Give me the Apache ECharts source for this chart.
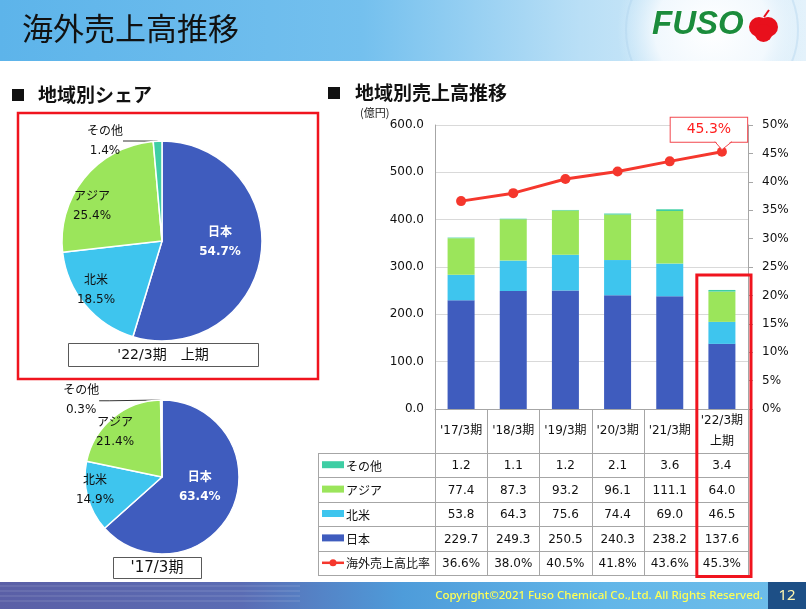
<!DOCTYPE html>
<html><head><meta charset="utf-8">
<script src="https://cdn.jsdelivr.net/npm/echarts@6/dist/echarts.min.js"></script>
<style>html,body{margin:0;padding:0;background:#fff}#c{width:806px;height:609px}</style>
</head><body><div id="c"></div>
<script>
// ---- data ----
const categories = ["'17/3期", "'18/3期", "'19/3期", "'20/3期", "'21/3期", "'22/3期\n上期"];
const japan = [229.7, 249.3, 250.5, 240.3, 238.2, 137.6];
const northAmerica = [53.8, 64.3, 75.6, 74.4, 69.0, 46.5];
const asia = [77.4, 87.3, 93.2, 96.1, 111.1, 64.0];
const others = [1.2, 1.1, 1.2, 2.1, 3.6, 3.4];
const overseasRatio = [36.6, 38.0, 40.5, 41.8, 43.6, 45.3];
const shareNames = ['日本', '北米', 'アジア', 'その他'];
const share22 = [54.7, 18.5, 25.4, 1.4];
const share17 = [63.4, 14.9, 21.4, 0.3];
const leftAxis = {min: 0, max: 600, interval: 100};
const rightAxis = {min: 0, max: 50, interval: 5};

// ---- style ----
const C = {jp: '#3F5CBE', na: '#3EC5EE', asia: '#9BE55B', oth: '#3ECEA4', line: '#F5372D'};
const sliceColors = [C.jp, C.na, C.asia, C.oth];
const FJ = '"Noto Sans CJK JP", sans-serif';
const FN = '"DejaVu Sans", "Noto Sans CJK JP", sans-serif';
const G = {left: 435, right: 748, top: 125, bottom: 409};
const colW = (G.right - G.left) / categories.length;

const chart = echarts.init(document.getElementById('c'), null, {renderer: 'canvas'});

// label placement relative to pie centre, in fractions of the radius
function pieLayout(cx, cy, R, offs) {
  return function (p) {
    const o = offs[p.dataIndex];
    return {x: cx + o[0] * R, y: cy + o[1] * R, align: 'center', verticalAlign: 'middle'};
  };
}
function pieData(vals) {
  return vals.map((v, i) => ({
    name: shareNames[i], value: v,
    itemStyle: {color: sliceColors[i]},
    label: i === 0 ? {color: '#fff', fontWeight: 'bold', position: 'inside'} :
           (i === 3 ? {position: 'outside'} : {position: 'inside'}),
    labelLine: {show: i === 3, lineStyle: {color: '#333', width: 1}, length: 6, length2: 10}
  }));
}
const pieLabel = {show: true, formatter: '{b}\n{c}%', fontSize: 12, fontFamily: FN, color: '#111', lineHeight: 19};

const option = {
  animation: false,
  grid: {left: G.left, right: 806 - G.right, top: G.top, bottom: 609 - G.bottom},
  xAxis: {
    type: 'category', data: categories,
    axisLine: {show: true, lineStyle: {color: '#A6A6A6'}},
    axisTick: {show: false},
    axisLabel: {interval: 0, margin: 22, verticalAlign: 'middle', lineHeight: 21, fontSize: 12, fontFamily: FN, color: '#111'}
  },
  yAxis: [
    {type: 'value', min: leftAxis.min, max: leftAxis.max, interval: leftAxis.interval,
     axisLine: {show: true, lineStyle: {color: '#A6A6A6'}}, axisTick: {show: false},
     splitLine: {lineStyle: {color: '#D9D9D9'}},
     axisLabel: {formatter: v => v.toFixed(1), fontSize: 12, fontFamily: FN, color: '#111', margin: 11}},
    {type: 'value', min: rightAxis.min, max: rightAxis.max, interval: rightAxis.interval, position: 'right',
     axisLine: {show: true, lineStyle: {color: '#A6A6A6'}},
     axisTick: {show: true, length: 5, lineStyle: {color: '#A6A6A6'}},
     splitLine: {show: false},
     axisLabel: {formatter: '{value}%', fontSize: 12, fontFamily: FN, color: '#111', margin: 14}}
  ],
  series: [
    {name: '日本', type: 'bar', stack: 's', data: japan, barWidth: 27, itemStyle: {color: C.jp}},
    {name: '北米', type: 'bar', stack: 's', data: northAmerica, itemStyle: {color: C.na}},
    {name: 'アジア', type: 'bar', stack: 's', data: asia, itemStyle: {color: C.asia}},
    {name: 'その他', type: 'bar', stack: 's', data: others, itemStyle: {color: C.oth}},
    {name: '海外売上高比率', type: 'line', yAxisIndex: 1, z: 5,
     data: overseasRatio.map((v, i) => i === overseasRatio.length - 1 ? {
       value: v,
       label: {show: true, position: 'top', distance: 5, offset: [-13, 0], formatter: '{c}%',
               color: '#FF1E1E', fontSize: 14, fontFamily: FN, backgroundColor: '#fff',
               borderColor: '#F2474E', borderWidth: 1, padding: [5, 16, 5, 16]}
     } : v),
     symbol: 'circle', symbolSize: 10, lineStyle: {color: C.line, width: 3}, itemStyle: {color: C.line}},
    {type: 'pie', center: [162, 241], radius: [0, 100], startAngle: 90, clockwise: true,
     itemStyle: {borderColor: '#fff', borderWidth: 1.5}, label: pieLabel,
     labelLayout: pieLayout(162, 241, 100, [[0.58, 0.01], [-0.66, 0.49], [-0.70, -0.35], [-0.57, -1.0]]),
     data: pieData(share22)},
    {type: 'pie', center: [162, 477], radius: [0, 77], startAngle: 90, clockwise: true,
     itemStyle: {borderColor: '#fff', borderWidth: 1.5}, label: pieLabel,
     labelLayout: pieLayout(162, 477, 77, [[0.49, 0.14], [-0.87, 0.18], [-0.61, -0.58], [-1.05, -0.99]]),
     data: pieData(share17)}
  ]
};
chart.setOption(option);

// ---- decorations & table ----
const els = [];
// header
els.push({type: 'rect', shape: {x: 0, y: 0, width: 806, height: 61}, z: -10,
  style: {fill: new echarts.graphic.LinearGradient(0, 0, 1, 0, [
    {offset: 0, color: '#5DB4EA'}, {offset: 0.45, color: '#74C0EE'},
    {offset: 0.72, color: '#B9DFF6'}, {offset: 1, color: '#E4F2FB'}])}});
els.push({type: 'circle', shape: {cx: 712, cy: 30, r: 95}, z: -9,
  style: {fill: new echarts.graphic.RadialGradient(0.5, 0.5, 0.5, [
    {offset: 0, color: 'rgba(255,255,255,1)'}, {offset: 0.6, color: 'rgba(245,250,254,0.9)'},
    {offset: 1, color: 'rgba(220,238,250,0)'}])}});
els.push({type: 'circle', shape: {cx: 712, cy: 30, r: 86}, z: -8,
  style: {fill: 'none', stroke: 'rgba(170,205,235,0.35)', lineWidth: 2}});
els.push({type: 'rect', shape: {x: 0, y: 61, width: 806, height: 60}, z: -7, style: {fill: '#fff'}});
els.push({type: 'text', x: 22, y: 28, style: {text: '海外売上高推移', font: '31px ' + FJ, fill: '#111', textVerticalAlign: 'middle'}});
// logo
els.push({type: 'text', x: 652, y: 25, style: {text: 'FUSO', font: 'italic bold 33px "Liberation Sans", sans-serif',
  fill: '#1B8C3C', stroke: '#fff', lineWidth: 1, textVerticalAlign: 'middle'}});
els.push({type: 'circle', shape: {cx: 759, cy: 27, r: 10}, style: {fill: '#E8101C'}});
els.push({type: 'circle', shape: {cx: 768, cy: 27, r: 10}, style: {fill: '#E8101C'}});
els.push({type: 'circle', shape: {cx: 763.5, cy: 33, r: 9}, style: {fill: '#E8101C'}});
els.push({type: 'line', shape: {x1: 764, y1: 17, x2: 769, y2: 10}, style: {stroke: '#E8101C', lineWidth: 2}});
// section titles
els.push({type: 'rect', shape: {x: 12, y: 89, width: 12, height: 12}, style: {fill: '#111'}});
els.push({type: 'text', x: 38, y: 95, style: {text: '地域別シェア', font: 'bold 19px ' + FJ, fill: '#111', textVerticalAlign: 'middle'}});
els.push({type: 'rect', shape: {x: 328, y: 87, width: 12, height: 12}, style: {fill: '#111'}});
els.push({type: 'text', x: 355, y: 93, style: {text: '地域別売上高推移', font: 'bold 19px ' + FJ, fill: '#111', textVerticalAlign: 'middle'}});
els.push({type: 'text', x: 360, y: 113, style: {text: '(億円)', font: '11px ' + FJ, fill: '#222', textVerticalAlign: 'middle'}});
// red box around recent pie
els.push({type: 'rect', shape: {x: 18, y: 113, width: 300, height: 266}, style: {fill: 'none', stroke: '#F0141E', lineWidth: 2.5}});
// pie captions
els.push({type: 'rect', shape: {x: 68.5, y: 343.5, width: 190, height: 23}, style: {fill: '#fff', stroke: '#595959', lineWidth: 1}});
els.push({type: 'text', x: 163, y: 355, style: {text: "'22/3期　上期", font: '14px ' + FN, fill: '#111', textAlign: 'center', textVerticalAlign: 'middle'}});
els.push({type: 'rect', shape: {x: 113.5, y: 557.5, width: 88, height: 21}, style: {fill: '#fff', stroke: '#595959', lineWidth: 1}});
els.push({type: 'text', x: 157, y: 568, style: {text: "'17/3期", font: '15px ' + FN, fill: '#111', textAlign: 'center', textVerticalAlign: 'middle'}});

// table
const rows = [
  {name: 'その他', vals: others, color: C.oth, fmt: v => v.toFixed(1)},
  {name: 'アジア', vals: asia, color: C.asia, fmt: v => v.toFixed(1)},
  {name: '北米', vals: northAmerica, color: C.na, fmt: v => v.toFixed(1)},
  {name: '日本', vals: japan, color: C.jp, fmt: v => v.toFixed(1)},
  {name: '海外売上高比率', vals: overseasRatio, color: C.line, fmt: v => v.toFixed(1) + '%', isLine: true}
];
const tLeft = 318, headBottom = 453, rowH = 24.4;
const tBottom = headBottom + rowH * rows.length;
const lineStyle = {stroke: '#A6A6A6', lineWidth: 1};
for (let i = 0; i <= rows.length; i++) {
  const y = Math.round(headBottom + rowH * i) + 0.5;
  els.push({type: 'line', shape: {x1: tLeft, y1: y, x2: G.right, y2: y}, style: lineStyle});
}
els.push({type: 'line', shape: {x1: tLeft + 0.5, y1: headBottom, x2: tLeft + 0.5, y2: tBottom}, style: lineStyle});
for (let j = 0; j <= categories.length; j++) {
  const x = Math.round(G.left + colW * j) + 0.5;
  els.push({type: 'line', shape: {x1: x, y1: G.bottom, x2: x, y2: tBottom}, style: lineStyle});
}
rows.forEach((r, i) => {
  const cy = headBottom + rowH * (i + 0.5);
  if (r.isLine) {
    els.push({type: 'line', shape: {x1: 322, y1: cy, x2: 344, y2: cy}, style: {stroke: r.color, lineWidth: 2.5}});
    els.push({type: 'circle', shape: {cx: 333, cy: cy, r: 3.5}, style: {fill: r.color}});
  } else {
    els.push({type: 'rect', shape: {x: 322, y: cy - 4, width: 22, height: 7}, style: {fill: r.color}});
  }
  els.push({type: 'text', x: 346, y: cy + 1, style: {text: r.name, font: '12px ' + FJ, fill: '#111', textVerticalAlign: 'middle'}});
  r.vals.forEach((v, j) => {
    els.push({type: 'text', x: G.left + colW * (j + 0.5), y: cy + 1,
      style: {text: r.fmt(v), font: '12px ' + FN, fill: '#111', textAlign: 'center', textVerticalAlign: 'middle'}});
  });
});
// red box around latest column
const lastX = G.left + colW * (categories.length - 1);
els.push({type: 'rect', z: 20, shape: {x: lastX + 1, y: 275, width: colW + 2, height: tBottom - 275 + 1.5},
  style: {fill: 'none', stroke: '#F0141E', lineWidth: 3}});

// callout pointer
const pt = chart.convertToPixel({seriesIndex: 4}, [categories.length - 1, overseasRatio[overseasRatio.length - 1]]);
const bb = pt[1] - 10;
els.push({type: 'polygon', z: 50, shape: {points: [[pt[0] - 7, bb - 1.5], [pt[0], pt[1] - 2], [pt[0] + 10, bb - 1.5]]}, style: {fill: '#fff'}});
els.push({type: 'polyline', z: 50, shape: {points: [[pt[0] - 7, bb], [pt[0], pt[1] - 2], [pt[0] + 10, bb]]}, style: {stroke: '#F2474E', lineWidth: 1, fill: 'none'}});

// footer
els.push({type: 'rect', shape: {x: 0, y: 582, width: 806, height: 27},
  style: {fill: new echarts.graphic.LinearGradient(0, 0, 1, 0, [
    {offset: 0, color: '#5A5FA6'}, {offset: 0.3, color: '#5A6CB4'}, {offset: 0.5, color: '#4E9CDA'},
    {offset: 0.75, color: '#62B6E8'}, {offset: 1, color: '#6FBEEA'}])}});
for (let k = 0; k < 4; k++) {
  els.push({type: 'line', shape: {x1: 0, y1: 586 + k * 5, x2: 300, y2: 586 + k * 5}, style: {stroke: 'rgba(255,255,255,0.18)', lineWidth: 1}});
}
els.push({type: 'rect', shape: {x: 768, y: 582, width: 38, height: 27}, style: {fill: '#1D4F86'}});
els.push({type: 'text', x: 787, y: 596, style: {text: '12', font: '15px "Noto Sans", sans-serif', fill: '#FFF7B0', textAlign: 'center', textVerticalAlign: 'middle'}});
els.push({type: 'text', x: 763, y: 596, style: {text: 'Copyright©2021 Fuso Chemical Co.,Ltd. All Rights Reserved.',
  font: '500 11.5px "Noto Sans", sans-serif', fill: '#FFFF55', textAlign: 'right', textVerticalAlign: 'middle'}});

chart.setOption({graphic: {elements: els}});
</script></body></html>
